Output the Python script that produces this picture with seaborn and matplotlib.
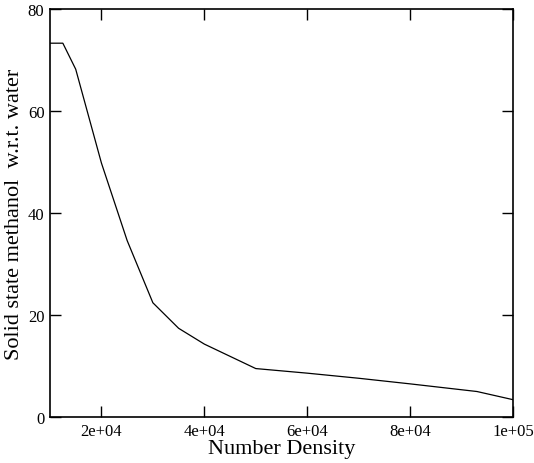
import matplotlib
matplotlib.use("Agg")
import matplotlib.pyplot as plt
import pandas as pd
import seaborn as sns

number_density = [1.0e4, 1.25e4, 1.5e4, 2.0e4, 2.5e4, 3.0e4, 3.5e4, 4.0e4,
                  5.0e4, 6.0e4, 7.0e4, 8.0e4, 9.3e4, 1.0e5]
methanol_wrt_water = [73.3, 73.3, 68.2, 49.8, 34.6, 22.4, 17.4, 14.3,
                      9.5, 8.6, 7.6, 6.5, 5.0, 3.4]
xticks = [2e4, 4e4, 6e4, 8e4, 1e5]
xtick_labels = ["2e+04", "4e+04", "6e+04", "8e+04", "1e+05"]
yticks = [0, 20, 40, 60, 80]

df = pd.DataFrame({"x": number_density, "y": methanol_wrt_water})

sns.set_style("ticks")
plt.rcParams["font.family"] = ["Liberation Serif", "DejaVu Serif"]
plt.rcParams["text.color"] = "black"
plt.rcParams["axes.labelcolor"] = "black"

fig = plt.figure(figsize=(5.34, 4.64), dpi=100)
ax = fig.add_axes([0.0936, 0.0991, 0.8671, 0.8793])
sns.lineplot(data=df, x="x", y="y", color="black", linewidth=0.9, ax=ax)

ax.set_xlim(1e4, 1e5)
ax.set_ylim(0, 80)
ax.set_xticks(xticks)
ax.set_xticklabels(xtick_labels)
ax.set_yticks(yticks)
ax.tick_params(direction="in", length=8, width=1, labelsize=12, pad=4,
               top=True, right=True, colors="black")
for s in ax.spines.values():
    s.set_linewidth(1.2)
    s.set_color("black")
ax.set_xlabel("Number Density", fontsize=16, labelpad=0)
ax.set_ylabel("Solid state methanol  w.r.t. water", fontsize=16, labelpad=3)

fig.savefig("out.png", dpi=100)
